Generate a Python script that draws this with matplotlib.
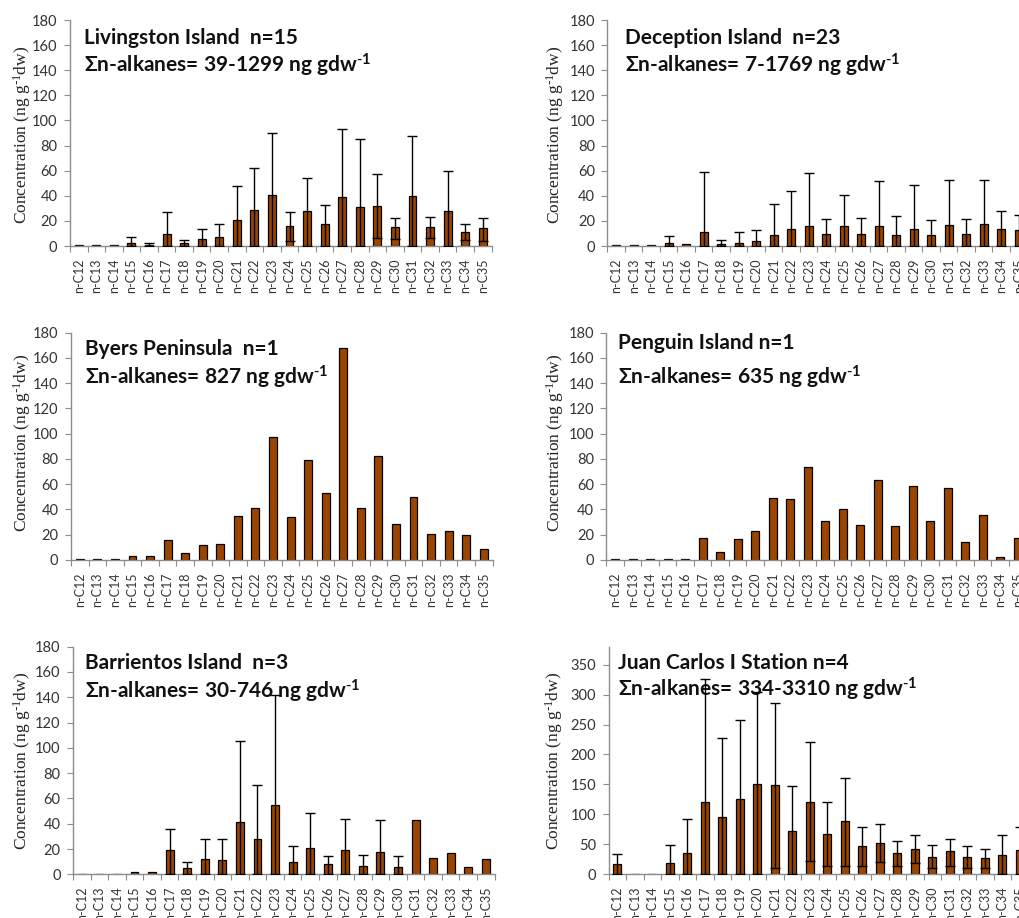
import numpy as np
import matplotlib
matplotlib.use("Agg")
import matplotlib.pyplot as plt

plt.rcParams['font.family'] = ['Lato', 'DejaVu Sans']
plt.rcParams['mathtext.default'] = 'regular'

# n-alkane homologues on the x axis
alkanes = ['n-C%d' % c for c in range(12, 36)]

# Livingston Island: mean, min, max (ng/g dw)
liv_mean = [0.5, 0.5, 0.5, 2.4, 1.0, 9.8, 2.7, 5.6, 7.2, 21, 28.7, 40.6,
            15.7, 27.9, 17.5, 39, 31.3, 32, 14.9, 39.8, 14.9, 28, 11.4, 14]
liv_min = [0, 0, 0, 0, 0, 0, 0, 0, 0, 0, 0, 0,
           4, 0, 0, 0, 0, 6.4, 5.6, 0, 6.4, 0, 5, 4]
liv_max = [None, None, None, 7, 2.7, 27, 5, 13.8, 17.5, 48, 62, 89.7,
           27, 54.4, 33, 93, 85.5, 57, 22.6, 87.6, 23, 60, 17.5, 22.6]

# Deception Island
dec_mean = [0.5, 0.5, 0.5, 2.7, 1.6, 11.4, 1.9, 2.7, 3.7, 8.8, 13.8, 15.7,
            9.8, 15.7, 9.8, 15.7, 8.8, 13.3, 8.8, 16.7, 9.8, 17.8, 13.8, 12.7]
dec_min = [0] * 24
dec_max = [None, None, None, 8, None, 58.7, 4.8, 11.4, 12.5, 33.7, 44, 58,
           21.8, 40.6, 22.6, 51.8, 24, 48.3, 21, 52.6, 21.8, 52.6, 27.9, 25]

# Byers Peninsula (single sample)
bye_mean = [0.5, 0.5, 0.5, 3.4, 3.4, 15.8, 5.8, 11.6, 12.4, 34.8, 40.9, 97.4,
            33.8, 79.4, 52.8, 167.9, 41.4, 82, 28.8, 50.1, 20.3, 23, 19.5, 8.4]

# Penguin Island (single sample)
pen_mean = [1, 1, 1, 1, 1, 17.7, 6.6, 16.6, 23, 49, 48.3, 73.4,
            30.6, 40.6, 27.7, 63, 26.9, 58.6, 30.6, 56.7, 14.3, 35.6, 2.4, 17.7]

# Barrientos Island
bar_mean = [0.5, 0.5, 0.5, 1.5, 1.5, 19, 4.7, 12.4, 11.3, 41.4, 27.9, 55.1,
            10, 20.8, 7.9, 19.2, 6.9, 17.4, 6.1, 43, 13.2, 17.1, 6.1, 12.4]
bar_min = [0] * 24
bar_max = [None, None, None, None, None, 36.1, 9.5, 28.2, 27.7, 105.4, 70.6, 142,
           22.7, 48.2, 14.5, 43.8, 15.6, 43, 14.5, None, None, None, None, None]

# Juan Carlos I Station
jc_mean = [16.7, 1, 1, 18.9, 35, 121, 96, 125, 150.6, 149, 72.8, 121,
           67.2, 88.9, 47.2, 52.8, 35, 42.2, 28.9, 38.9, 28.9, 27.8, 32.8, 40]
jc_min = [0, 0, 0, 0, 0, 0, 0, 0, 0, 10, 0, 21.7,
          13.3, 13.3, 13.3, 21, 13.3, 18.3, 10.6, 14.4, 10.6, 11, 0, 0]
jc_max = [34.4, None, None, 49.4, 92.2, 325.6, 227.8, 257, 305, 285.6, 146.7, 220,
          120.6, 160.6, 79.4, 83.3, 55, 65, 48.9, 59.4, 47.2, 41.7, 65, 78.3]

panels = [
    # title, sum text, mean, min, max, axes rect, ymax, ytick step, ytick top,
    # text x, line 1 y, line 2 y, ylabel position
    ('Livingston Island  n=15', '39-1299', liv_mean, liv_min, liv_max,
     [0.0686, 0.732, 0.4133, 0.2462], 180, 20, 180, 0.033, 0.92, 0.80, (-0.088, 0.49)),
    ('Deception Island  n=23', '7-1769', dec_mean, dec_min, dec_max,
     [0.5955, 0.732, 0.4118, 0.2462], 180, 20, 180, 0.042, 0.92, 0.80, (-0.099, 0.49)),
    ('Byers Peninsula  n=1', '827', bye_mean, None, None,
     [0.0696, 0.390, 0.4133, 0.2476], 180, 20, 180, 0.033, 0.927, 0.805, (-0.09, 0.515)),
    ('Penguin Island n=1', '635', pen_mean, None, None,
     [0.5945, 0.390, 0.4118, 0.2476], 180, 20, 180, 0.028, 0.953, 0.805, (-0.097, 0.515)),
    ('Barrientos Island  n=3', '30-746', bar_mean, bar_min, bar_max,
     [0.0716, 0.0476, 0.4133, 0.248], 180, 20, 180, 0.028, 0.927, 0.805, (-0.095, 0.5)),
    ('Juan Carlos I Station n=4', '334-3310', jc_mean, jc_min, jc_max,
     [0.5967, 0.0476, 0.4118, 0.248], 380, 50, 350, 0.022, 0.927, 0.81, (-0.103, 0.5)),
]

bar_color = '#9b4500'
spine_color = '#8c8c8c'
x = np.arange(len(alkanes))

fig = plt.figure(figsize=(10.2, 9.18), dpi=100)

for (title, total, mean, lo, hi, rect, ymax, ystep, ytop,
     tx, ty1, ty2, ylab) in panels:
    ax = fig.add_axes(rect)
    ax.bar(x, mean, width=0.45, color=bar_color, edgecolor='black',
           linewidth=0.9, zorder=2)

    # min-max range bars
    if hi is not None:
        idx = [i for i in range(len(hi)) if hi[i] is not None]
        m = np.array([mean[i] for i in idx])
        lower = m - np.array([lo[i] for i in idx])
        upper = np.array([hi[i] for i in idx]) - m
        ax.errorbar(idx, m, yerr=[lower, upper], fmt='none', ecolor='black',
                    elinewidth=1.0, capsize=3.5, capthick=1.0, zorder=3)

    ax.set_xlim(-0.5, len(alkanes) - 0.5)
    ax.set_ylim(0, ymax)
    ax.set_yticks(np.arange(0, ytop + 1, ystep))

    ax.set_xticks(x)
    ax.set_xticklabels(alkanes, rotation=90, fontsize=9, color='#333333')
    ax.set_xticks(np.arange(-0.5, len(alkanes), 1), minor=True)
    ax.tick_params(axis='x', which='major', length=0, pad=9)
    ax.tick_params(axis='x', which='minor', length=4, width=0.8,
                   color=spine_color, direction='out')
    ax.tick_params(axis='y', length=4, width=0.8, color=spine_color,
                   labelsize=10.5, labelcolor='#333333', pad=5)

    for s in ['top', 'right']:
        ax.spines[s].set_visible(False)
    for s in ['left', 'bottom']:
        ax.spines[s].set_color(spine_color)
        ax.spines[s].set_linewidth(1.0)

    ax.set_ylabel(r'Concentration (ng g$^{\text{-}1}$dw)', family='Liberation Serif',
                  fontsize=12.5, color='#222222')
    ax.yaxis.set_label_coords(*ylab)

    ax.text(tx, ty1, title, transform=ax.transAxes, fontsize=15,
            fontweight='bold', va='center', ha='left', color='#111111', zorder=1)
    ax.text(tx, ty2, 'Σn-alkanes= ' + total + r' ng gdw$^{\text{-}1}$',
            transform=ax.transAxes, fontsize=15, fontweight='bold',
            va='center', ha='left', color='#111111', zorder=1)

fig.savefig('out.png', dpi=100)
